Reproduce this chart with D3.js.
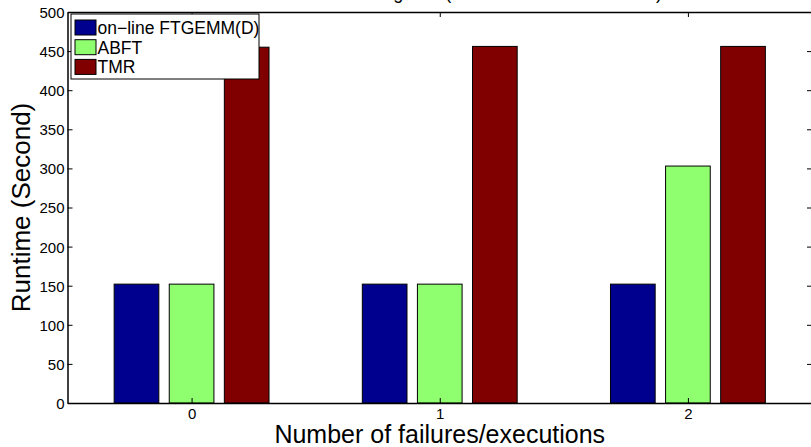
<!DOCTYPE html>
<html>
<head>
<meta charset="utf-8">
<script src="https://cdn.jsdelivr.net/npm/d3@7"></script>
<style>
  body { margin: 0; background: #fff; }
  svg { display: block; font-family: "Liberation Sans", Arial, sans-serif; }
  .tick text { font-size: 15px; fill: #000; }
</style>
</head>
<body>
<div id="chart"></div>
<script>
// Data
const categories = ["0", "1", "2"];
const seriesNames = ["on\u2212line FTGEMM(D)", "ABFT", "TMR"];
const seriesColors = ["#00008f", "#8fff70", "#800000"];
const onlineFtgemm = [152, 152, 152];
const abft = [152, 152, 303];
const tmr = [455, 456, 456];
const yTicks = [0, 50, 100, 150, 200, 250, 300, 350, 400, 450, 500];
const chartTitle = "Fault tolerance overhead using MPI (Matrix Size 20000\u00d720000)";

const width = 811;
const height = 447;
const margin = { top: 12, right: -1, bottom: 44, left: 67.5 };
const innerWidth = width - margin.left - margin.right;
const innerHeight = height - margin.top - margin.bottom;

const series = [onlineFtgemm, abft, tmr];
const data = [];
categories.forEach((c, i) => {
  series.forEach((s, j) => data.push({ cat: +c, series: j, value: s[i] }));
});

/*******************************/
/*    Append the containers    */
/*******************************/
const svg = d3.select("#chart")
  .append("svg")
    .attr("width", width)
    .attr("height", height);

const innerChart = svg
  .append("g")
    .attr("transform", `translate(${margin.left}, ${margin.top})`);

// Title (sits above the visible area, only descenders show)
svg
  .append("text")
    .attr("text-anchor", "end")
    .attr("x", 662)
    .attr("y", -1)
    .attr("font-size", "18px")
    .text(chartTitle);

/****************************/
/*    Declare the scales    */
/****************************/
const xScale = d3.scaleLinear()
  .domain([-0.5, 2.5])
  .range([0, innerWidth]);

const yScale = d3.scaleLinear()
  .domain([0, 500])
  .range([innerHeight, 0]);

const offsetScale = d3.scaleLinear()
  .domain([0, 2])
  .range([-0.222, 0.222]);
const barWidth = xScale(0.18) - xScale(0);

/******************************/
/*     Append the bars        */
/******************************/
innerChart
  .selectAll(".bar")
  .data(data)
  .join("rect")
    .attr("class", "bar")
    .attr("x", d => xScale(d.cat + offsetScale(d.series)) - barWidth / 2)
    .attr("y", d => yScale(d.value))
    .attr("width", barWidth)
    .attr("height", d => innerHeight - yScale(d.value))
    .attr("fill", d => seriesColors[d.series])
    .attr("stroke", "#000")
    .attr("stroke-width", 1);

/***************************/
/*     Append the axes     */
/***************************/
const leftAxis = innerChart
  .append("g")
    .attr("class", "axis-y")
    .call(d3.axisLeft(yScale).tickValues(yTicks).tickSizeInner(-5).tickSizeOuter(0).tickPadding(3));

const rightAxis = innerChart
  .append("g")
    .attr("transform", `translate(${innerWidth}, 0)`)
    .call(d3.axisRight(yScale).tickValues(yTicks).tickSizeInner(-5).tickSizeOuter(0).tickFormat(""));

const bottomAxis = innerChart
  .append("g")
    .attr("transform", `translate(0, ${innerHeight})`)
    .call(d3.axisBottom(xScale).tickValues([0, 1, 2]).tickFormat(d3.format("d")).tickSizeInner(-5).tickSizeOuter(0).tickPadding(7));

const topAxis = innerChart
  .append("g")
    .call(d3.axisTop(xScale).tickValues([0, 1, 2]).tickFormat("").tickSizeInner(-5).tickSizeOuter(0));

[leftAxis, rightAxis, bottomAxis, topAxis].forEach(a => {
  a.selectAll("line").attr("stroke", "#000");
  a.select(".domain").attr("stroke", "#000").attr("stroke-width", 1.5);
});
rightAxis.select(".domain").remove();
leftAxis.selectAll(".tick text").attr("dy", "0.36em");
bottomAxis.selectAll(".tick text").attr("dy", "0.62em");

// Axis labels
svg
  .append("text")
    .attr("text-anchor", "middle")
    .attr("x", margin.left + innerWidth / 2)
    .attr("y", 443)
    .attr("font-size", "25px")
    .text("Number of failures/executions");

svg
  .append("text")
    .attr("text-anchor", "middle")
    .attr("transform", `translate(30, ${margin.top + innerHeight / 2}) rotate(-90)`)
    .attr("font-size", "26px")
    .text("Runtime (Second)");

/************************/
/*     Legend           */
/************************/
const legend = svg
  .append("g")
    .attr("transform", "translate(71, 14)");

legend
  .append("rect")
    .attr("width", 188)
    .attr("height", 65)
    .attr("fill", "#fff")
    .attr("stroke", "#000")
    .attr("stroke-width", 1);

const legendItems = legend
  .selectAll(".legend-item")
  .data(seriesNames)
  .join("g")
    .attr("class", "legend-item")
    .attr("transform", (d, i) => `translate(4, ${6 + i * 19.7})`);

legendItems
  .append("rect")
    .attr("width", 21)
    .attr("height", 15)
    .attr("fill", (d, i) => seriesColors[i])
    .attr("stroke", "#000")
    .attr("stroke-width", 1);

legendItems
  .append("text")
    .attr("x", 22.5)
    .attr("y", 14)
    .attr("font-size", "17.5px")
    .text(d => d);
</script>
</body>
</html>
